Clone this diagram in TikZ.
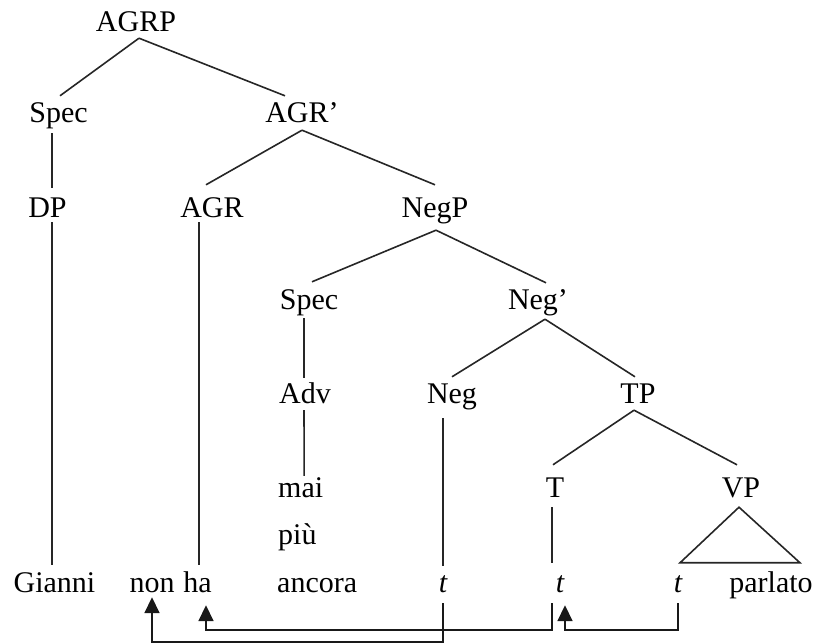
\documentclass[tikz,border=0pt]{standalone}
\usepackage{fontspec}
\setmainfont{Liberation Serif}
\usetikzlibrary{arrows.meta}
\begin{document}
\begin{tikzpicture}[x=1pt,y=-1pt,
  lbl/.style={inner sep=0pt,text height=20pt,text depth=0pt,anchor=base,font=\fontsize{30}{36}\selectfont},
  edge/.style={line width=1.6pt,draw=black!85},
  arr/.style={line width=1.7pt,draw=black!90,-{Triangle[width=15pt,length=16pt]}}]
\useasboundingbox (0,0) rectangle (815,644);
% nodes
\node[lbl] (agrp) at (136,32) {AGRP};
\node[lbl] (spec1) at (58.5,123) {Spec};
\node[lbl] (agrbar) at (302,123) {AGR’};
\node[lbl] (dp) at (47.5,218) {DP};
\node[lbl] (agr) at (212,218) {AGR};
\node[lbl] (negp) at (435,218) {NegP};
\node[lbl] (spec2) at (309,310) {Spec};
\node[lbl] (negbar) at (538,310) {Neg’};
\node[lbl] (adv) at (305,404) {Adv};
\node[lbl] (neg) at (452,404) {Neg};
\node[lbl] (tp) at (638,404) {TP};
\node[lbl,anchor=base west] (mai) at (278,498) {mai};
\node[lbl] (tnode) at (555,498) {T};
\node[lbl] (vp) at (741,498) {VP};
\node[lbl,anchor=base west] (piu) at (278,545) {più};
\node[lbl] (gianni) at (54.5,592) {Gianni};
\node[lbl] (non) at (152,592) {non};
\node[lbl] (ha) at (197.5,592) {ha};
\node[lbl,anchor=base west] (ancora) at (277,592) {ancora};
\node[lbl] (t1) at (443,592) {\itshape t};
\node[lbl] (t2) at (560,592) {\itshape t};
\node[lbl] (t3) at (678,592) {\itshape t};
\node[lbl] (parlato) at (771,592) {parlato};
% tree edges
\draw[edge] ([shift={(3,6)}]agrp.south) -- ([shift={(1.5,-7)}]spec1.north);
\draw[edge] ([shift={(3,6)}]agrp.south) -- ([shift={(-17,-7)}]agrbar.north);
\draw[edge] ([shift={(0,7)}]agrbar.south) -- ([shift={(-6,-13)}]agr.north);
\draw[edge] ([shift={(0,7)}]agrbar.south) -- ([shift={(0,-13)}]negp.north);
\draw[edge] ([shift={(-6.5,10)}]spec1.south) -- ([shift={(4.5,-10)}]dp.north);
\draw[edge] ([shift={(4.5,4)}]dp.south) -- ([shift={(-2.5,-7)}]gianni.north);
\draw[edge] ([shift={(-13,4)}]agr.south) -- ([shift={(1.5,-7)}]ha.north);
\draw[edge] ([shift={(1,12)}]negp.south) -- ([shift={(3,-8)}]spec2.north);
\draw[edge] ([shift={(1,12)}]negp.south) -- ([shift={(8,-7)}]negbar.north);
\draw[edge] ([shift={(-5,8)}]spec2.south) -- ([shift={(-1,-6)}]adv.north);
\draw[edge] ([shift={(7,9)}]negbar.south) -- ([shift={(0,-7)}]neg.north);
\draw[edge] ([shift={(7,9)}]negbar.south) -- ([shift={(-3,-7)}]tp.north);
\draw[edge] ([shift={(-1,6)}]adv.south) -- ([shift={(3.5,-2)}]mai.north);
\draw[edge] ([shift={(-9,14)}]neg.south) -- ([shift={(0,-6)}]t1.north);
\draw[edge] ([shift={(-4,6)}]tp.south) -- ([shift={(-2,-13)}]tnode.north);
\draw[edge] ([shift={(-4,6)}]tp.south) -- ([shift={(-4,-13)}]vp.north);
\draw[edge] ([shift={(-3,9)}]tnode.south) -- ([shift={(-8,-9)}]t2.north);
\draw[edge,line join=miter] ([shift={(-2,9)}]vp.south) -- ([shift={(2,-9)}]t3.north) -- ([shift={(29,-9)}]parlato.north) -- cycle;
% movement arrows
\draw[arr] ([shift={(0,11)}]t1.south) -- ++(0,39) -| ([shift={(0,5)}]non.south);
\draw[arr] ([shift={(-8,11)}]t2.south) -- ++(0,27) -| ([shift={(8.5,13)}]ha.south);
\draw[arr] ([shift={(0,11)}]t3.south) -- ++(0,27) -| ([shift={(5,13)}]t2.south);
\end{tikzpicture}
\end{document}
